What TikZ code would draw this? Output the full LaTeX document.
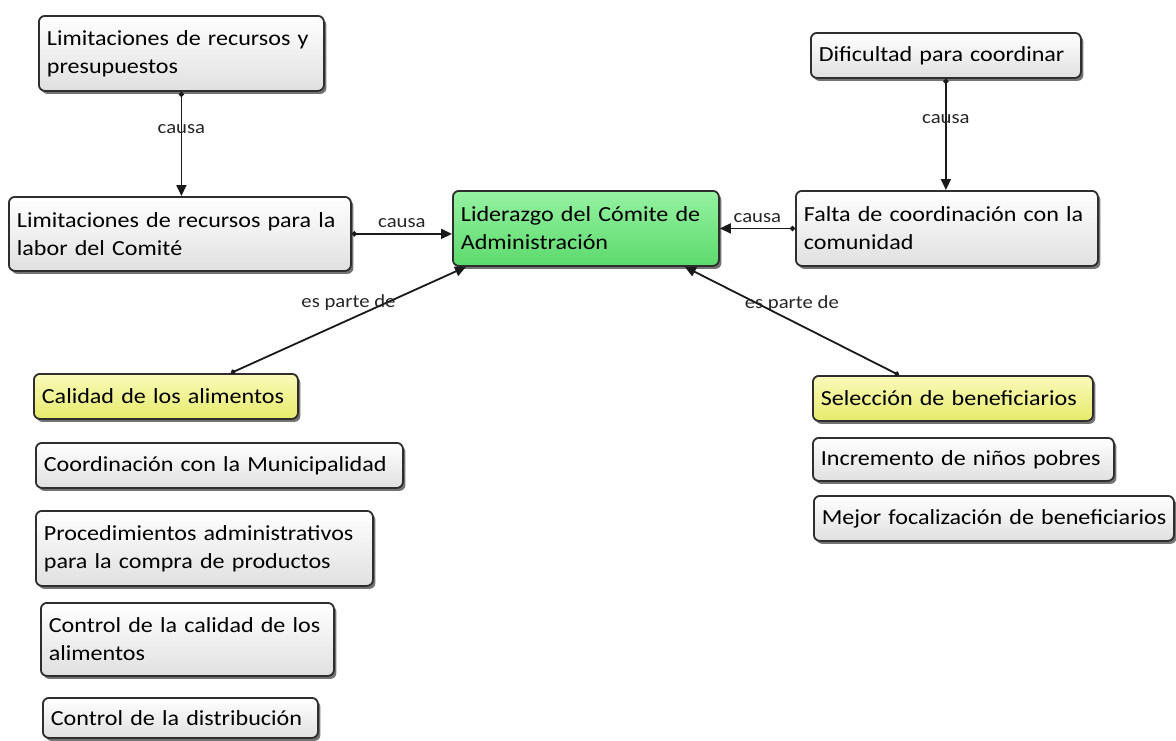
\documentclass[tikz,border=0pt]{standalone}
\usepackage{fontspec}
\setmainfont{Carlito}[FakeStretch=1.12]
\usetikzlibrary{arrows.meta,shadows}
\definecolor{linecol}{HTML}{1A1A1A}
\definecolor{boxtop}{HTML}{FFFFFF}
\definecolor{boxbot}{HTML}{E0E0E0}
\definecolor{greentop}{HTML}{96F2A2}
\definecolor{greenbot}{HTML}{5CDA6C}
\definecolor{yeltop}{HTML}{FAFABA}
\definecolor{yelbot}{HTML}{E6EA6A}
\tikzset{
  concept/.style={draw=black!82, line width=1.8pt, rounded corners=6pt,
    top color=boxtop, bottom color=boxbot,
    drop shadow={shadow xshift=2.5pt, shadow yshift=-3pt, fill=black, opacity=0.55},
    anchor=north west, inner xsep=8pt, inner ysep=0pt, align=left,
    font=\fontsize{21.5}{28}\selectfont},
  greenbox/.style={concept, top color=greentop, bottom color=greenbot},
  yellowbox/.style={concept, top color=yeltop, bottom color=yelbot},
  conn/.style={draw=linecol, line width=1.8pt,
    {Circle[length=5pt]}-{Triangle[length=11pt,width=10pt]}},
  lab/.style={font=\fontsize{18.5}{22}\selectfont, text=black!85, inner sep=1pt}
}
\begin{document}
\begin{tikzpicture}[x=1pt,y=-1pt]
\useasboundingbox[fill=white] (0,0) rectangle (1176,740);

% top left
\node[concept, minimum width=285pt, minimum height=75pt, text width=269pt] (lrp) at (38,15)
  {\mbox{Limitaciones de recursos y}\\\mbox{presupuestos}};
\node[concept, minimum width=342pt, minimum height=74pt, text width=326pt] (lrc) at (8,196)
  {\mbox{Limitaciones de recursos para la}\\\mbox{labor del Comité}};
% center
\node[greenbox, minimum width=266pt, minimum height=75pt, text width=250pt] (lid) at (452,190)
  {\mbox{Liderazgo del Cómite de}\\\mbox{Administración}};
% right
\node[concept, minimum width=270pt, minimum height=45pt, text width=254pt] (dif) at (810,32)
  {\mbox{Dificultad para coordinar}};
\node[concept, minimum width=302pt, minimum height=75pt, text width=286pt] (fal) at (795,190)
  {\mbox{Falta de coordinación con la}\\\mbox{comunidad}};
% bottom left
\node[yellowbox, minimum width=264pt, minimum height=45pt, text width=248pt] (cal) at (33,373)
  {\mbox{Calidad de los alimentos}};
\node[concept, minimum width=367pt, minimum height=45pt, text width=351pt] (coo) at (35,442)
  {\mbox{Coordinación con la Municipalidad}};
\node[concept, minimum width=337pt, minimum height=75pt, text width=321pt] (pro) at (35,510)
  {\mbox{Procedimientos administrativos}\\\mbox{para la compra de productos}};
\node[concept, minimum width=293pt, minimum height=73pt, text width=277pt] (ccal) at (40,602)
  {\mbox{Control de la calidad de los}\\\mbox{alimentos}};
\node[concept, minimum width=275pt, minimum height=40pt, text width=259pt] (cdis) at (42,697)
  {\mbox{Control de la distribución}};
% bottom right
\node[yellowbox, minimum width=280pt, minimum height=45pt, text width=264pt] (sel) at (812,375)
  {\mbox{Selección de beneficiarios}};
\node[concept, minimum width=301pt, minimum height=43pt, text width=285pt] (inc) at (812,437)
  {\mbox{Incremento de niños pobres}};
\node[concept, minimum width=360pt, minimum height=45pt, text width=344pt] (mej) at (813,495)
  {\mbox{Mejor focalización de beneficiarios}};

% connectors
\draw[conn] (lrp.south) -- node[lab, pos=0.36] {causa} (lrp.south |- lrc.north);
\draw[conn] (lrc.east) -- node[lab, above=4pt] {causa} (lrc.east -| lid.west);
\draw[conn] (fal.west) -- node[lab, above=4pt] {causa} (fal.west -| lid.east);
\draw[conn] (dif.south) -- node[lab, pos=0.36] {causa} (dif.south |- fal.north);
\draw[conn] ([xshift=65pt]cal.north) -- node[lab, pos=0.5, yshift=17pt] {es parte de} ([xshift=14pt]lid.south west);
\draw[conn] ([xshift=-54pt]sel.north) -- node[lab, pos=0.5, yshift=17pt] {es parte de} ([xshift=-35pt]lid.south east);
\end{tikzpicture}
\end{document}
